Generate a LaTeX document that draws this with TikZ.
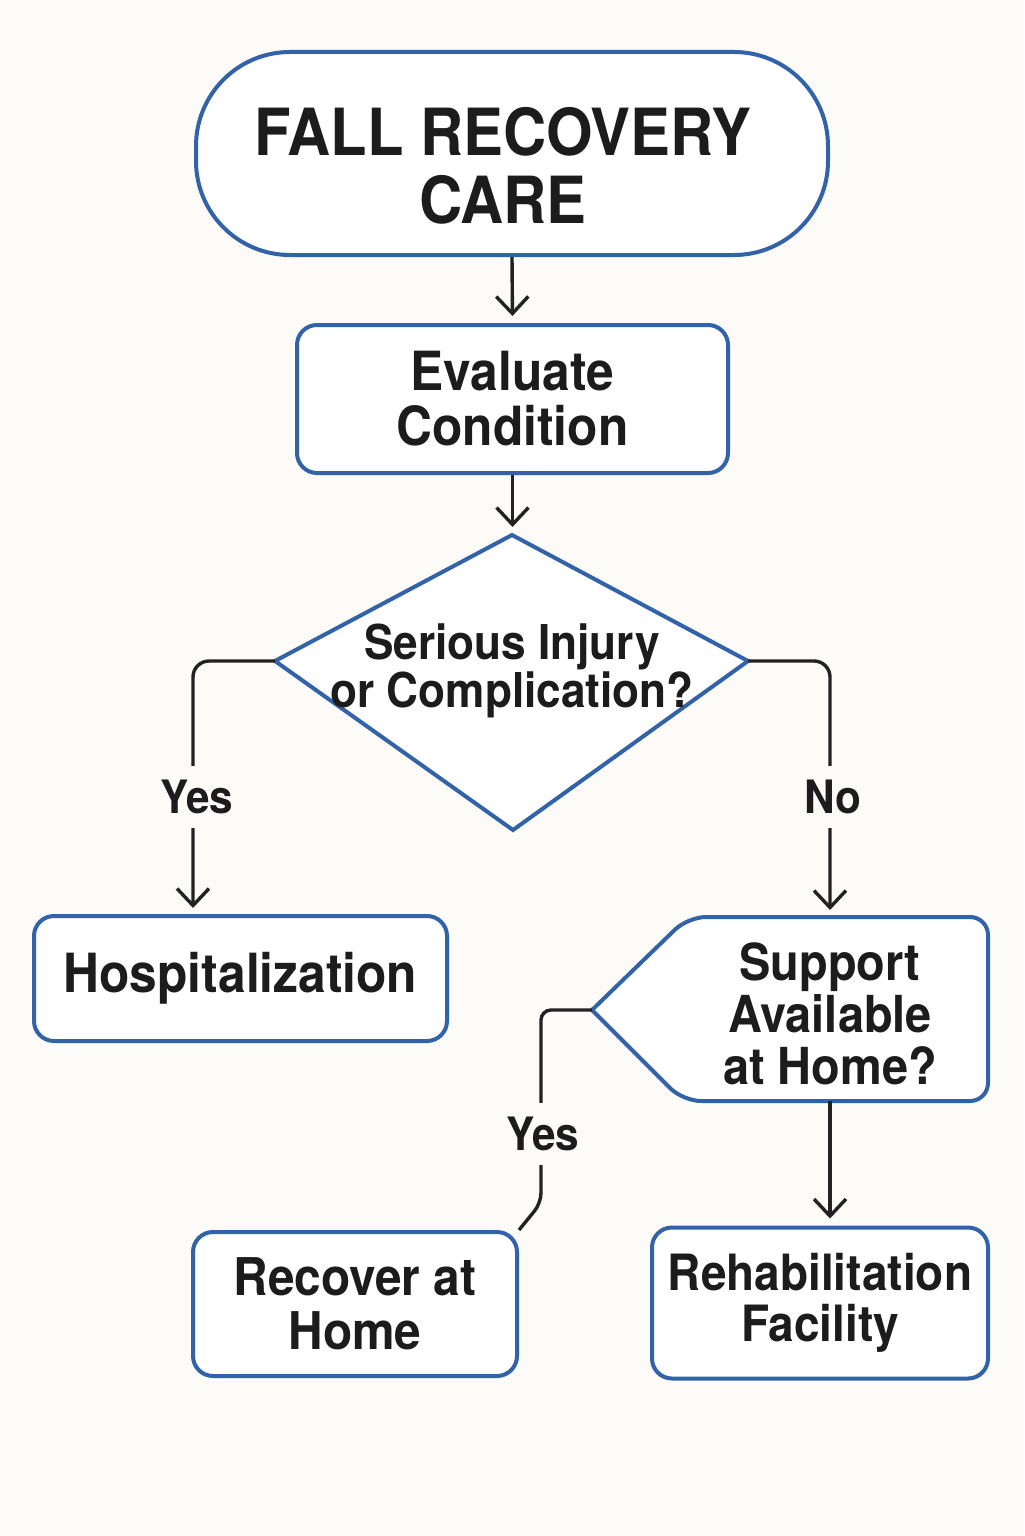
\documentclass[tikz,border=0pt]{standalone}
\usepackage{fontspec}
\newfontfamily\hf[FakeStretch=0.92]{TeX Gyre Heros}
\usetikzlibrary{arrows.meta,calc}
\definecolor{bg}{HTML}{FDFBF8}
\definecolor{bluec}{HTML}{3263A8}
\definecolor{txt}{HTML}{1C1C1C}
\definecolor{linec}{HTML}{222222}
\begin{document}
\begin{tikzpicture}[x=0.5pt,y=-0.5pt,
  box/.style={draw=bluec, line width=2pt, fill=white, rounded corners=10pt, align=center, text=txt, font=\hf\bfseries\fontsize{26pt}{27pt}\selectfont, inner sep=0pt},
  conn/.style={draw=linec, line width=1.7pt},
  arr/.style={conn, -{Straight Barb[length=8.5pt,width=16pt,line width=1.7pt]}},
  lbl/.style={fill=bg, text=txt, font=\hf\bfseries\fontsize{23pt}{24pt}\selectfont, inner xsep=2pt, inner ysep=7pt},
  qtext/.style={text=txt, align=center, inner sep=0pt}]
\useasboundingbox (0,0) rectangle (1024,1536);
\fill[bg] (0,0) rectangle (1024,1536);

% title
\node[box, rounded corners=47pt, minimum width=316pt, minimum height=101.5pt] (title) at (512,153.5) {};
\node[qtext, font=\hf\bfseries\fontsize{32.5pt}{34pt}\selectfont] (titletext) at (503,166) {FALL RECOVERY\\CARE};

% evaluate
\node[box, minimum width=215.5pt, minimum height=74pt, font=\hf\bfseries\fontsize{27pt}{27.5pt}\selectfont] (eval) at (512.5,399) {Evaluate\\Condition};

% diamond
\coordinate (dtop) at (512,535);
\coordinate (dleft) at (275,661);
\coordinate (dright) at (748,661);
\coordinate (dbot) at (513,830);
\draw[draw=bluec, line width=2pt, fill=white, line join=miter] (dtop) -- (dright) -- (dbot) -- (dleft) -- cycle;
\node[qtext, font=\hf\bfseries\fontsize{24pt}{24pt}\selectfont] (dtext) at (512,671) {Serious Injury\\or Complication?};

% hospitalization
\node[box, minimum width=206.5pt, minimum height=62.5pt, font=\hf\bfseries\fontsize{27pt}{27pt}\selectfont] (hosp) at (240.5,978.5) {Hospitalization};

% support shape
\coordinate (spt) at (592,1010);
\coordinate (stl) at (688,917);
\coordinate (str) at (988,917);
\coordinate (sbr) at (988,1101);
\coordinate (sbl) at (683,1101);
\coordinate (stop) at (830,917);
\coordinate (sbot) at (830,1101);
\coordinate (sm1) at ($(spt)!0.5!(stl)$);
\coordinate (sm2) at ($(sbl)!0.5!(spt)$);
\draw[draw=bluec, line width=2pt, fill=white, line join=miter] (sm1) [rounded corners=9pt] -- (stl) -- (str) -- (sbr) -- (sbl) -- (sm2) [sharp corners] -- (spt) -- cycle;
\node[qtext, font=\hf\bfseries\fontsize{25.5pt}{26pt}\selectfont] (avail) at (830,1014) {Support\\Available\\at Home?};

% bottom boxes
\node[box, minimum width=162pt, minimum height=72pt] (rec) at (355,1304) {Recover at\\Home};
\node[box, minimum width=168pt, minimum height=75.5pt, font=\hf\bfseries\fontsize{25pt}{25.5pt}\selectfont] (rehab) at (820,1303) {Rehabilitation\\Facility};

% connectors
\draw[arr, shorten >=3.5pt] (title.south) -- (eval.north);
\draw[arr, shorten >=4pt] (eval.south) -- (eval.south |- dtop);
\draw[arr, rounded corners=8pt, shorten >=3pt] (dleft) -| ([xshift=-23.75pt]hosp.north);
\draw[arr, rounded corners=8pt, shorten >=3.5pt] (dright) -| (stop);
\draw[conn, rounded corners=5pt] (spt) -- ++(-51,0) -- ++(0,193) -- (rec.north east);
\draw[arr, shorten >=3.5pt] (sbot) -- (sbot |- rehab.north);

% labels
\node[lbl] (yes1) at (197,797) {Yes};
\node[lbl] (no1) at (833,797) {No};
\node[lbl] (yes2) at (543,1134) {Yes};
\end{tikzpicture}
\end{document}
